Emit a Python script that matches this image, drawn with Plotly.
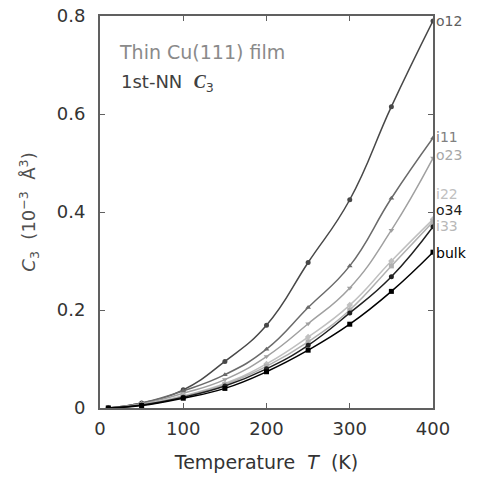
import plotly.graph_objects as go

temps = [10, 50, 100, 150, 200, 250, 300, 350, 400]
o12 = [0.0, 0.010, 0.037, 0.095, 0.169, 0.297, 0.425, 0.615, 0.790]
i11 = [0.0, 0.010, 0.035, 0.068, 0.120, 0.205, 0.290, 0.428, 0.551]
o23 = [0.0, 0.008, 0.030, 0.058, 0.105, 0.172, 0.245, 0.363, 0.510]
i22 = [0.0, 0.007, 0.025, 0.050, 0.090, 0.145, 0.210, 0.300, 0.385]
o34 = [0.0, 0.006, 0.022, 0.045, 0.080, 0.128, 0.194, 0.268, 0.370]
i33 = [0.0, 0.006, 0.024, 0.048, 0.085, 0.135, 0.200, 0.290, 0.380]
bulk = [0.0, 0.005, 0.020, 0.040, 0.074, 0.118, 0.171, 0.238, 0.318]

series = [
    ("o12", o12, "#484848", "#606060", "circle", 0.790),
    ("i11", i11, "#6a6a6a", "#808080", "triangle-up", 0.553),
    ("o23", o23, "#a0a0a0", "#a8a8a8", "triangle-down", 0.516),
    ("i22", i22, "#c0c0c0", "#c0c0c0", "diamond", 0.437),
    ("i33", i33, "#b0b0b0", "#b8b8b8", "square", 0.372),
    ("o34", o34, "#202020", "#202020", "circle", 0.405),
    ("bulk", bulk, "#000000", "#000000", "square", 0.316),
]

FONT = "DejaVu Sans"

fig = go.Figure()
for name, vals, col, lcol, sym, ly in series:
    fig.add_trace(go.Scatter(
        x=temps, y=vals, mode="lines+markers", name=name,
        line=dict(color=col, width=1.5, shape="spline", smoothing=1.3),
        marker=dict(symbol=sym, size=5, color=col),
        showlegend=False,
    ))
    fig.add_annotation(x=1, xref="paper", y=ly, yref="y", text=name,
                       showarrow=False, xanchor="left", xshift=1,
                       font=dict(size=14, color=lcol, family=FONT))

fig.add_annotation(x=0.051, xref="paper", y=0.727, yref="y", text="Thin Cu(111) film",
                   showarrow=False, xanchor="left",
                   font=dict(size=19, color="#8a8a8a", family=FONT))
fig.add_annotation(x=0.057, xref="paper", y=0.663, yref="y",
                   text="1st-NN  <i><b><span style='font-family:Liberation Serif'>C</span></b></i><sub>3</sub>",
                   showarrow=False, xanchor="left",
                   font=dict(size=18, color="#404040", family=FONT))

axis_common = dict(showline=True, linecolor="#606060", linewidth=2, mirror="ticks",
                   ticks="inside", ticklen=5, tickcolor="#606060", showgrid=False,
                   zeroline=False,
                   tickfont=dict(size=18, color="#333333", family=FONT))

fig.update_layout(
    width=480, height=481,
    margin=dict(l=100, r=47, t=16, b=73, autoexpand=False),
    paper_bgcolor="white", plot_bgcolor="white",
    xaxis=dict(range=[0, 400], tickvals=[0, 100, 200, 300, 400], ticklabelstandoff=3,
               title=dict(text="Temperature  <i>T</i>  (K)", standoff=18,
                          font=dict(size=19, color="#333333", family=FONT)),
               **axis_common),
    yaxis=dict(range=[0, 0.8], tickvals=[0, 0.2, 0.4, 0.6, 0.8], ticklabelstandoff=9,
               ticktext=["0", "0.2", "0.4", "0.6", "0.8"],
               title=dict(text="<i>C</i><sub>3</sub>  (10<sup>−3</sup>  Å<sup>3</sup>)", standoff=16,
                          font=dict(size=18, color="#505050", family=FONT)),
               **axis_common),
)

fig.write_html("out.html", config={"displayModeBar": False},
               post_script="document.body.style.margin='0px';")
